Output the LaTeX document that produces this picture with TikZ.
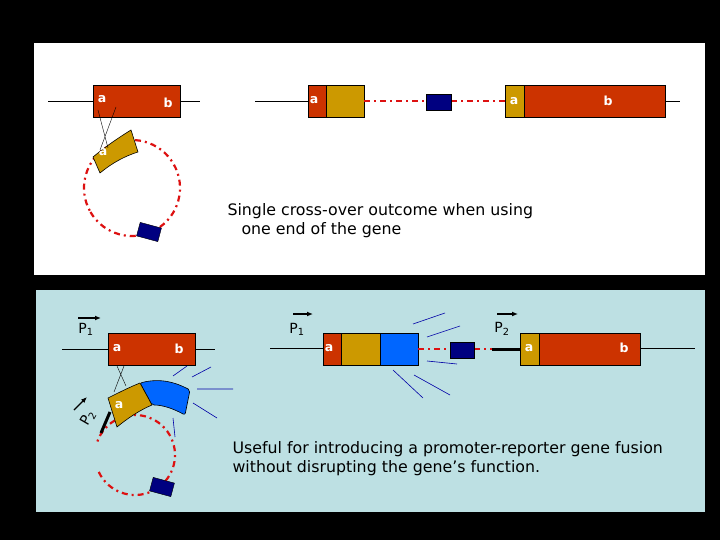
\documentclass[tikz,border=0pt]{standalone}
\usepackage{fontspec}
\usetikzlibrary{arrows.meta}
\setmainfont{DejaVu Sans}
\definecolor{rd}{HTML}{CC3300}
\definecolor{gd}{HTML}{CC9900}
\definecolor{nv}{HTML}{000080}
\definecolor{bl}{HTML}{0066FF}
\definecolor{pb}{HTML}{BDE0E3}
\definecolor{dd}{HTML}{DD1111}
\begin{document}
\begin{tikzpicture}[x=1pt,y=-1pt,
 box/.style={draw=black,line width=0.6pt},
 dd/.style={draw=dd,line width=2.2pt,dash pattern=on 6pt off 4pt on 2pt off 4pt},
 wl/.style={text=white,inner sep=0pt,font=\fontsize{12.5}{14}\selectfont\bfseries},
 lab/.style={font=\fontsize{15.8}{18}\selectfont,align=left,anchor=west},
 ray/.style={draw=nv!70!blue,line width=0.6pt},
 pl/.style={inner sep=0pt,font=\fontsize{14}{16}\selectfont},
 par/.style={-{Latex[length=6pt,width=5pt]},line width=1.3pt}]
\fill[black] (0,0) rectangle (720,540);
\useasboundingbox (0,0) rectangle (720,540);
\fill[white] (34,43) rectangle (705,275);
\fill[pb] (36,290) rectangle (705,512);
% ---- top left
\draw (48,101) -- (93,101) (180,101) -- (200,101);
\draw[box,fill=rd] (93,85) rectangle (180,117);
\node[wl] (ta) at (102,99) {a};
\node[wl] (tb) at (168,103) {b};
\draw[dd] (132,188) ++(150:48) arc (150:-210:48);
\draw[box,fill=gd] (93,157) .. controls (105,147) and (118,138) .. (131,130) -- (138,152) .. controls (125,156) and (112,163) .. (100,173) -- cycle;
\node[wl] (tga) at (103,152) {a};
\draw[line width=0.4pt] (98,110) -- (108,148) (116,107) -- (100,150);
\draw[fill=nv,rotate around={-15:(149,232)}] (138,225) rectangle (160,239);
% ---- top right
\draw (255,101) -- (308,101) (665,101) -- (680,101);
\draw[box,fill=rd] (308,85) rectangle (326,117);
\draw[box,fill=gd] (326,85) rectangle (364,117);
\draw[dd] (364,101) -- (426,101) (451,101) -- (505,101);
\draw[fill=nv] (426,94) rectangle (451,110);
\draw[box,fill=gd] (505,85) rectangle (524,117);
\draw[box,fill=rd] (524,85) rectangle (665,117);
\node[wl] (ra) at (314,100) {a};
\node[wl] (rb) at (514,101) {a};
\node[wl] (rc) at (608,101) {b};
\node[lab] (t1) at (224,211) {Single cross-over outcome when using};
\node[lab] (t2) at (238,230) {one end of the gene};
% ---- bottom left
\node[pl] (p1a) at (86,329) {P\textsubscript{1}};
\draw[par] (78,318) -- (101,318);
\draw (62,349) -- (108,349) (195,349) -- (215,349);
\draw[box,fill=rd] (108,333) rectangle (195,365);
\node[wl] (ba) at (117,348) {a};
\node[wl] (bb) at (179,349) {b};
\draw[dd] (135,455) ++(155:40) arc (155:-163:40);
\draw[box,fill=bl,rounded corners=2pt] (140,383) .. controls (160,378) and (175,382) .. (190,390) -- (185,415) .. controls (172,408) and (162,405) .. (152,405) -- cycle;
\draw[box,fill=gd] (108,398) .. controls (120,392) and (130,387) .. (140,383) -- (152,405) .. controls (140,410) and (128,418) .. (117,427) -- cycle;
\node[wl] (bga) at (119,405) {a};
\draw[line width=0.4pt] (117,366) -- (126,386) (124,366) -- (114,392);
\draw[line width=3pt] (101,433) -- (110,412);
\draw[fill=nv,rotate around={-15:(162,487)}] (151,480) rectangle (173,494);
\node[pl,rotate=60] (p2a) at (88,418) {P\textsubscript{2}};
\draw[par] (74,410) -- (87,397);
\draw[ray] (173,376)--(187,366) (192,377)--(211,367) (197,389)--(233,389) (193,403)--(217,418) (173,418)--(175,437);
% ---- bottom right
\draw (270,348) -- (323,348) (640,348) -- (695,348);
\draw[box,fill=rd] (323,333) rectangle (341,365);
\draw[box,fill=gd] (341,333) rectangle (380,365);
\draw[box,fill=bl] (380,333) rectangle (418,365);
\draw[dd] (418,349) -- (450,349) (474,349) -- (492,349);
\draw[fill=nv] (450,342) rectangle (474,358);
\draw[line width=3pt] (492,349) -- (520,349);
\draw[box,fill=gd] (520,333) rectangle (539,365);
\draw[box,fill=rd] (539,333) rectangle (640,365);
\node[wl] (ca) at (329,348) {a};
\node[wl] (cb) at (529,348) {a};
\node[wl] (cc) at (624,348) {b};
\node[pl] (p1b) at (297,329) {P\textsubscript{1}};
\draw[par] (293,314) -- (313,314);
\node[pl] (p2b) at (502,329) {P\textsubscript{2}};
\draw[par] (497,314) -- (518,314);
\draw[ray] (413,324)--(445,313) (427,337)--(460,326) (427,361)--(457,364) (393,370)--(423,398) (414,375)--(450,395);
\node[lab] (u1) at (229,449) {Useful for introducing a promoter-reporter gene fusion};
\node[lab] (u2) at (229,468) {without disrupting the gene’s function.};
\end{tikzpicture}
\end{document}
